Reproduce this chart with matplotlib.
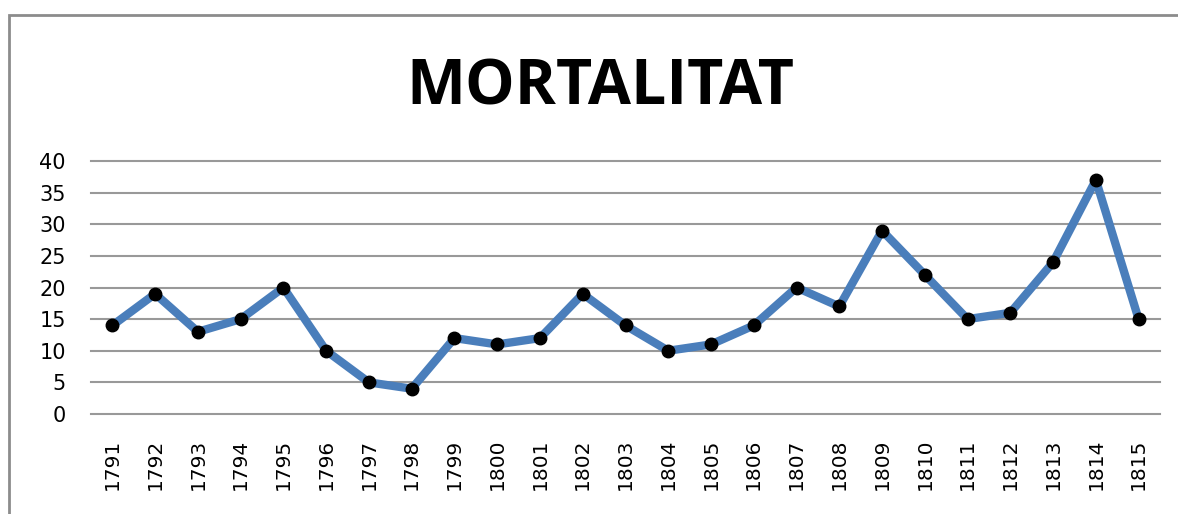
import numpy as np
import matplotlib
matplotlib.use("Agg")
from matplotlib import pyplot as plt
from matplotlib.patches import Rectangle

# ------------------------------------------------------------
# data
years = ["1791", "1792", "1793", "1794", "1795", "1796", "1797", "1798",
         "1799", "1800", "1801", "1802", "1803", "1804", "1805", "1806",
         "1807", "1808", "1809", "1810", "1811", "1812", "1813", "1814",
         "1815"]
deaths = [14, 19, 13, 15, 20, 10, 5, 4, 12, 11, 12, 19, 14, 10, 11, 14,
          20, 17, 29, 22, 15, 16, 24, 37, 15]
yticks = [0, 5, 10, 15, 20, 25, 30, 35, 40]

fig = plt.figure(figsize=(11.78, 5.14), dpi=100)

# outer chart frame (runs off the right and bottom edge)
fig.patches.append(Rectangle((9 / 1178, -0.1), 1.2, 1 - 15 / 514 + 0.1,
                             transform=fig.transFigure, fill=False,
                             edgecolor='#8c8c8c', linewidth=2))

ax = fig.add_axes([91 / 1178, 1 - 414 / 514, 1069 / 1178, 253 / 514])
x = np.arange(len(years))
ax.plot(x, deaths, color='#4a7ebb', linewidth=6, solid_joinstyle='round',
        marker='o', markersize=9, markerfacecolor='black',
        markeredgecolor='black', zorder=3)

ax.set_xlim(-0.5, len(years) - 0.5)
ax.set_ylim(0, 40)
ax.set_yticks(yticks)
ax.set_xticks(x)
ax.set_xticklabels(years, rotation=90, fontsize=14.5)
ax.tick_params(axis='y', labelsize=15, length=0, pad=18)
ax.tick_params(axis='x', length=0, pad=18)
ax.grid(axis='y', color='#999999', linewidth=1.5)
for g in ax.get_ygridlines():
    g.set_clip_on(False)
ax.set_axisbelow(True)
for s in ax.spines.values():
    s.set_visible(False)

fig.text(600 / 1178, 1 - 88 / 514, 'MORTALITAT', ha='center', va='center',
         fontsize=45, fontweight='bold', family='Open Sans')

fig.savefig('out.png', dpi=100)
